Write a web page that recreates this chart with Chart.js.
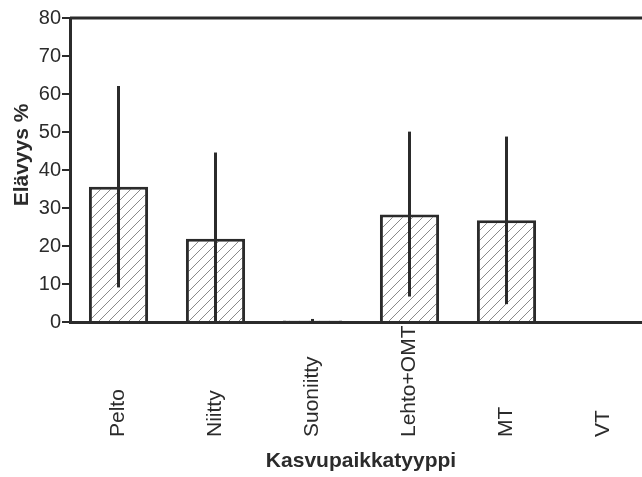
<!DOCTYPE html>
<html>
<head>
<meta charset="utf-8">
<script src="https://cdn.jsdelivr.net/npm/chart.js@4/dist/chart.umd.min.js"></script>
<style>
    html, body { margin: 0; padding: 0; background: #fff; overflow: hidden; }
    #wrap { width: 660px; height: 477px; }
</style>
</head>
<body>
<div id="wrap"><canvas id="chart"></canvas></div>
<script>
// Kasvupaikkatyypit ja elävyys (%)
const categories = ['Pelto', 'Niitty', 'Suoniitty', 'Lehto+OMT', 'MT', 'VT'];
const survival = [35.6, 21.9, 0.4, 28.3, 26.8, 0];
const errLow = [9.1, 0, 0, 6.7, 4.7, 0];
const errHigh = [62.1, 44.6, 0.8, 50.1, 48.8, 0];
const yTicks = [0, 10, 20, 30, 40, 50, 60, 70, 80];

const ink = '#2b2b2b';
const fontFamily = '"Liberation Sans", Arial, sans-serif';

function makeHatch() {
    const n = 10;
    const c = document.createElement('canvas');
    c.width = n;
    c.height = n;
    const g = c.getContext('2d');
    g.fillStyle = '#fff';
    g.fillRect(0, 0, n, n);
    g.strokeStyle = '#8a8a8a';
    g.lineWidth = 1;
    g.beginPath();
    g.moveTo(0, n); g.lineTo(n, 0);
    g.moveTo(-1, 1); g.lineTo(1, -1);
    g.moveTo(n - 1, n + 1); g.lineTo(n + 1, n - 1);
    g.stroke();
    return g.createPattern(c, 'repeat');
}

// virhejanat, yläreuna, y-akselin otsikko ja pystyyn käännetyt luokkanimet
const extras = {
    id: 'extras',
    afterDatasetsDraw(chart) {
        const ctx = chart.ctx;
        const x = chart.scales.x;
        const y = chart.scales.y;
        const area = chart.chartArea;
        ctx.save();
        ctx.strokeStyle = ink;
        ctx.lineWidth = 3;
        errHigh.forEach((hi, i) => {
            if (hi <= 0) return;
            const px = x.getPixelForValue(i);
            ctx.beginPath();
            ctx.moveTo(px, y.getPixelForValue(errLow[i]));
            ctx.lineTo(px, y.getPixelForValue(hi));
            ctx.stroke();
        });
        ctx.beginPath();
        ctx.moveTo(area.left, area.top);
        ctx.lineTo(chart.width, area.top);
        ctx.stroke();

        ctx.fillStyle = ink;
        ctx.textBaseline = 'middle';

        ctx.save();
        ctx.font = 'bold 21px ' + fontFamily;
        ctx.textAlign = 'center';
        ctx.translate(22, 155);
        ctx.rotate(-Math.PI / 2);
        ctx.fillText('Elävyys %', 0, 0);
        ctx.restore();

        ctx.font = '21px ' + fontFamily;
        ctx.textAlign = 'left';
        categories.forEach((name, i) => {
            const px = x.getPixelForValue(i);
            ctx.save();
            ctx.translate(px, 437);
            ctx.rotate(-Math.PI / 2);
            ctx.fillText(name, 0, 0);
            ctx.restore();
        });
        ctx.restore();
    }
};

const ctx = document.getElementById('chart').getContext('2d');
new Chart(ctx, {
    type: 'bar',
    data: {
        labels: categories,
        datasets: [{
            label: 'Elävyys %',
            data: survival,
            backgroundColor: makeHatch(),
            borderColor: ink,
            borderWidth: 3,
            borderSkipped: 'start',
            barPercentage: 0.61,
            categoryPercentage: 1.0
        }]
    },
    options: {
        responsive: true,
        maintainAspectRatio: false,
        animation: false,
        layout: { padding: { top: 18, right: 8, left: 0, bottom: 0 } },
        plugins: {
            legend: { display: false },
            tooltip: { enabled: false }
        },
        scales: {
            x: {
                grid: { display: false },
                border: { display: true, color: ink, width: 3 },
                ticks: { display: false },
                title: {
                    display: true,
                    text: 'Kasvupaikkatyyppi',
                    color: ink,
                    font: { family: fontFamily, size: 21, weight: 'bold' },
                    padding: { top: 4, bottom: 3 }
                },
                afterFit: s => { s.height = 155; }
            },
            y: {
                min: 0,
                max: 80,
                afterBuildTicks: s => { s.ticks = yTicks.map(v => ({ value: v })); },
                grid: {
                    drawOnChartArea: false,
                    drawTicks: true,
                    tickLength: 8,
                    color: ink,
                    lineWidth: 2
                },
                border: { display: true, color: ink, width: 3 },
                ticks: {
                    color: ink,
                    padding: 1,
                    font: { family: fontFamily, size: 20 }
                },
                title: { display: false },
                afterFit: s => { s.width = 70; }
            }
        }
    },
    plugins: [extras]
});
</script>
</body>
</html>
